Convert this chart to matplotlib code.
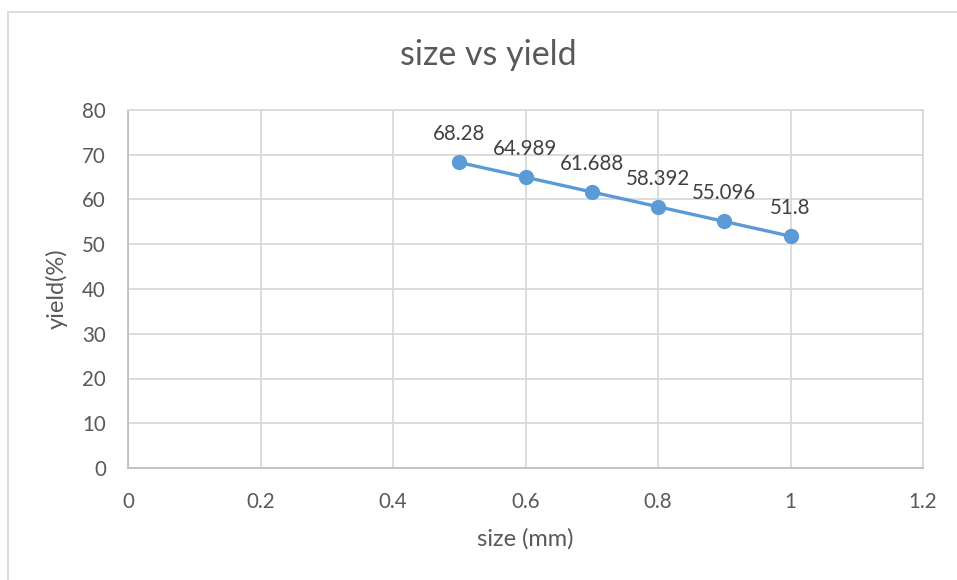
import matplotlib
matplotlib.use("Agg")
import matplotlib.pyplot as plt
from matplotlib.patches import Rectangle

plt.rcParams['font.family'] = ['Lato', 'DejaVu Sans']

size_mm = [0.5, 0.6, 0.7, 0.8, 0.9, 1.0]
yield_pct = [68.28, 64.989, 61.688, 58.392, 55.096, 51.8]
labels = ["68.28", "64.989", "61.688", "58.392", "55.096", "51.8"]
xticks = [0, 0.2, 0.4, 0.6, 0.8, 1.0, 1.2]
xticklabels = ["0", "0.2", "0.4", "0.6", "0.8", "1", "1.2"]
yticks = [0, 10, 20, 30, 40, 50, 60, 70, 80]

W, H = 957, 580
fig = plt.figure(figsize=(W / 100, H / 100), dpi=100)
txt = "#595959"
grid = "#D9D9D9"

# outer chart border
fig.add_artist(Rectangle((8 / W, -0.1), 1.2, (H - 12) / H + 0.1, transform=fig.transFigure,
                         fill=False, edgecolor=grid, linewidth=1.3))

ax = fig.add_axes([128 / W, (H - 468) / H, (923 - 128) / W, (468 - 110) / H])
ax.plot(size_mm, yield_pct, color="#5B9BD5", linewidth=2.4, marker="o",
        markersize=10, markerfacecolor="#5B9BD5", markeredgecolor="#5B9BD5", zorder=3)
for x, y, l in zip(size_mm, yield_pct, labels):
    ax.annotate(l, (x, y), xytext=(0, 13), textcoords="offset points",
                ha="center", va="bottom", fontsize=14.8, color="#404040")

ax.set_xlim(0, 1.2)
ax.set_ylim(0, 80)
ax.set_xticks(xticks)
ax.set_xticklabels(xticklabels)
ax.set_yticks(yticks)
ax.grid(True, color=grid, linewidth=1.3)
ax.set_axisbelow(True)
ax.tick_params(length=0, labelsize=14.8, labelcolor=txt)
ax.tick_params(axis='x', pad=17)
ax.tick_params(axis='y', pad=16)
for s in ax.spines.values():
    s.set_color(grid)
    s.set_linewidth(1.3)
ax.spines['bottom'].set_color("#BFBFBF")
ax.spines['left'].set_color("#BFBFBF")

ax.set_xlabel("size (mm)", fontsize=17, color=txt, labelpad=12)
ax.set_ylabel("yield(%)", fontsize=17, color=txt, labelpad=10)
fig.text(488 / W, 1 - 55 / H, "size vs yield", ha="center", va="center",
         fontsize=24.5, color=txt)

fig.savefig("out.png", dpi=100)
